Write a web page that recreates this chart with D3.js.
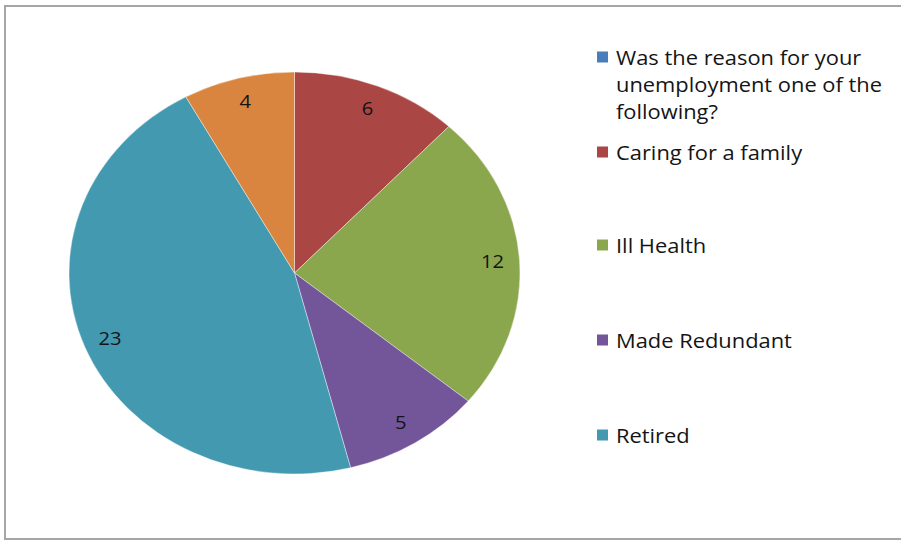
<!DOCTYPE html>
<html>
<head>
<meta charset="utf-8">
<script src="https://cdn.jsdelivr.net/npm/d3@7"></script>
<style>
  html, body { margin: 0; padding: 0; background: #fff; }
  svg { display: block; }
  text { font-family: "Open Sans", "DejaVu Sans", sans-serif; fill: #141414; }
</style>
</head>
<body>
<svg id="chart" width="901" height="541"></svg>
<script>
// Reasons for unemployment (survey counts)
const categories = [
  "Was the reason for your unemployment one of the following?",
  "Caring for a family",
  "Ill Health",
  "Made Redundant",
  "Retired",
  "Other"
];
const values = [0, 6, 12, 5, 23, 4];
const colors = ["#4a7ebb", "#aa4644", "#8ba74e", "#73559a", "#4399b0", "#da853f"];
// Legend wraps the long question over three lines; only the first five entries fit
const legendLines = [
  ["Was the reason for your", "unemployment one of the", "following?"],
  ["Caring for a family"],
  ["Ill Health"],
  ["Made Redundant"],
  ["Retired"]
];

const svg = d3.select("#chart");
const W = 901, H = 541;

// chart frame
svg.append("path")
  .attr("d", `M${W + 2},6 H5 V539 H${W + 2}`)
  .attr("fill", "none")
  .attr("stroke", "#a6a6a6")
  .attr("stroke-width", 2);

// the whole chart is drawn slightly wider than tall
const cx = 294.5, cy = 273, rx = 225.5, ry = 201;
const sx = rx / ry;

const color = d3.scaleOrdinal().domain(categories).range(colors);
const data = categories.map((c, i) => ({ name: c, value: values[i] }));

const pie = d3.pie().value(d => d.value).sort(null);
const arcs = pie(data);
const arc = d3.arc().innerRadius(0).outerRadius(ry);
const labelArc = d3.arc().innerRadius(ry * 0.88).outerRadius(ry * 0.88);

const g = svg.append("g")
  .attr("transform", `translate(${cx},${cy}) scale(${sx},1)`);

g.selectAll("path.slice")
  .data(arcs.filter(a => a.value > 0))
  .join("path")
  .attr("class", "slice")
  .attr("d", arc)
  .attr("fill", d => color(d.data.name))
  .attr("stroke", "#ffffff")
  .attr("stroke-opacity", 0.5)
  .attr("stroke-width", 0.8)
  .attr("vector-effect", "non-scaling-stroke");

// value labels
svg.append("g")
  .attr("transform", `translate(${cx},${cy})`)
  .selectAll("text")
  .data(arcs.filter(a => a.value > 0))
  .join("text")
  .attr("transform", d => {
    const [x, y] = labelArc.centroid(d);
    return `translate(${x * sx},${y}) scale(${sx},1)`;
  })
  .attr("text-anchor", "middle")
  .attr("dominant-baseline", "central")
  .attr("font-size", 18)
  .text(d => d.value);

// legend
const legendY = [57, 152, 245, 340, 435];
const lg = svg.append("g");
legendLines.forEach((lines, i) => {
  const item = lg.append("g").attr("transform", `translate(597,${legendY[i]})`);
  item.append("rect")
    .attr("x", 0).attr("y", -5.5)
    .attr("width", 11).attr("height", 11)
    .attr("fill", color(categories[i]));
  lines.forEach((t, j) => {
    item.append("text")
      .attr("transform", `translate(19,${j * 27}) scale(${sx},1)`)
      .attr("dominant-baseline", "central")
      .attr("font-size", 19.5)
      .text(t);
  });
});
</script>
</body>
</html>
